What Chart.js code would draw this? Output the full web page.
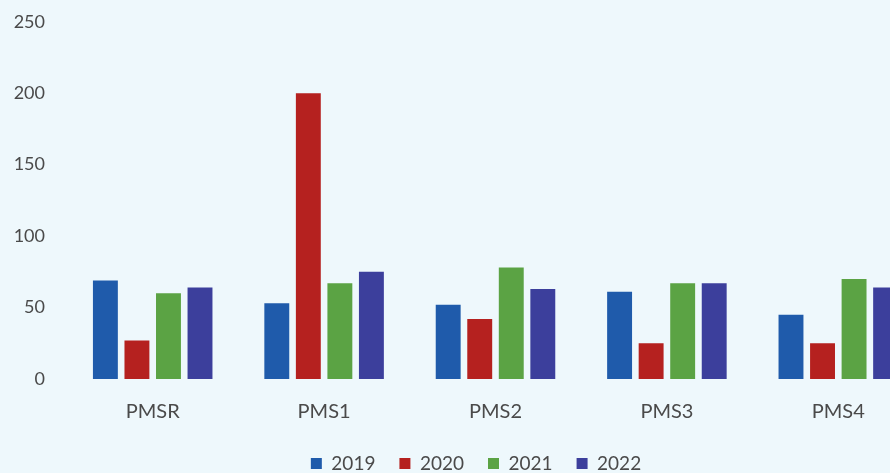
<!DOCTYPE html>
<html>
<head>
<meta charset="utf-8">
<script src="https://cdn.jsdelivr.net/npm/chart.js@4/dist/chart.umd.min.js"></script>
<style>
  html, body { margin: 0; padding: 0; overflow: hidden; background: #eef8fc; }
  #wrap { width: 952px; height: 490px; position: relative; }
</style>
</head>
<body>
<div id="wrap"><canvas id="pmsChart"></canvas></div>
<script>
const categories = ['PMSR', 'PMS1', 'PMS2', 'PMS3', 'PMS4'];
const years = ['2019', '2020', '2021', '2022'];
const values2019 = [69, 53, 52, 61, 45];
const values2020 = [27, 200, 42, 25, 25];
const values2021 = [60, 67, 78, 67, 70];
const values2022 = [64, 75, 63, 67, 64];
const yTicks = [0, 50, 100, 150, 200, 250];

const colors = ['#1f5bab', '#b5211f', '#5ba344', '#3c3f9c'];
const series = [values2019, values2020, values2021, values2022];

// nudge the legend so it sits where the original one is
const legendNudge = {
    id: 'legendNudge',
    afterLayout(chart) {
        const lg = chart.legend;
        lg.left += 14; lg.right += 14;
        lg.top -= 7; lg.bottom -= 7;
    }
};

document.addEventListener('DOMContentLoaded', function () {
    const ctx = document.getElementById('pmsChart').getContext('2d');
    const family = 'Lato, "Open Sans", sans-serif';

    new Chart(ctx, {
        type: 'bar',
        data: {
            labels: categories,
            datasets: series.map((vals, i) => ({
                label: years[i],
                data: vals,
                backgroundColor: colors[i],
                barPercentage: 0.79,
                categoryPercentage: 0.736
            }))
        },
        options: {
            responsive: true,
            maintainAspectRatio: false,
            animation: false,
            layout: { padding: { top: 0, right: 28, left: 0, bottom: 0 } },
            plugins: {
                legend: {
                    position: 'bottom',
                    labels: {
                        boxWidth: 11,
                        boxHeight: 11,
                        padding: 24,
                        color: '#4a4a4a',
                        font: { family: family, size: 19 }
                    }
                },
                tooltip: { enabled: false }
            },
            scales: {
                x: {
                    grid: { display: false },
                    border: { display: false },
                    ticks: { color: '#4a4a4a', font: { family: family, size: 20 }, padding: 13 }
                },
                y: {
                    min: 0,
                    max: 250,
                    afterBuildTicks: axis => { axis.ticks = yTicks.map(v => ({ value: v })); },
                    afterFit: axis => { axis.width = 67; },
                    grid: { display: false, tickLength: 11 },
                    border: { display: false },
                    ticks: { color: '#4a4a4a', font: { family: family, size: 18 }, padding: 11 }
                }
            }
        },
        plugins: [legendNudge]
    });
});
</script>
</body>
</html>
